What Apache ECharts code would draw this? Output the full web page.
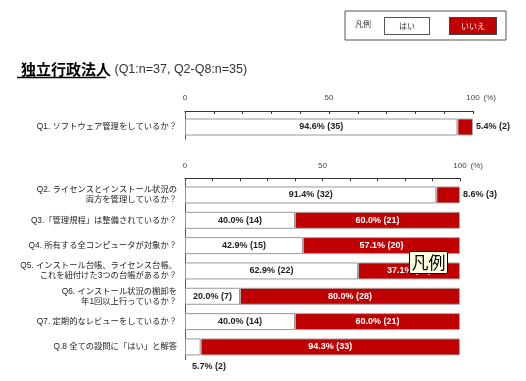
<!DOCTYPE html>
<html>
<head>
<meta charset="utf-8">
<script src="https://cdn.jsdelivr.net/npm/echarts@6/dist/echarts.min.js"></script>
<style>html,body{margin:0;padding:0;background:#fff;}#c{width:526px;height:381px;}</style>
</head>
<body>
<div id="c"></div>
<script>
// ---- data ----
const categories1 = ['Q1. ソフトウェア管理をしているか？'];
const yesPct1 = [94.6];
const noPct1 = [5.4];
const yesCount1 = [35];
const noCount1 = [2];

const categories2 = [
  'Q2. ライセンスとインストール状況の\n両方を管理しているか？',
  'Q3.「管理規程」は整備されているか？',
  'Q4. 所有する全コンピュータが対象か？',
  'Q5. インストール台帳、ライセンス台帳、\nこれを紐付けた3つの台帳があるか？',
  'Q6. インストール状況の棚卸を\n年1回以上行っているか？',
  'Q7. 定期的なレビューをしているか？',
  'Q.8 全ての設問に「はい」と解答'
];
const yesPct2 = [91.4, 40.0, 42.9, 62.9, 20.0, 40.0, 5.7];
const noPct2 = [8.6, 60.0, 57.1, 37.1, 80.0, 60.0, 94.3];
const yesCount2 = [32, 14, 15, 22, 7, 14, 2];
const noCount2 = [3, 21, 20, 13, 28, 21, 33];

const axisTicks = [0, 50, 100];
const seriesNames = ['はい', 'いいえ'];

// ---- styling ----
const RED = '#c00000';
const CJK = '"Liberation Sans", "Noto Sans CJK JP", sans-serif';
const JP = '"Noto Sans CJK JP", sans-serif';
const NUM = '"Liberation Sans", Arial, sans-serif';
const fmt = (v, n) => v.toFixed(1) + '% (' + n + ')';

function xAxisCfg(gridIndex) {
  return {
    type: 'value', gridIndex, position: 'top', min: 0, max: 100, interval: 10, offset: 4,
    name: '(%)', nameLocation: 'end', nameGap: 7,
    nameTextStyle: { fontSize: 8, color: '#444', fontFamily: NUM, verticalAlign: 'bottom', padding: [0, 0, 9, 0] },
    axisLine: { show: true, lineStyle: { color: '#333', width: 1 } },
    axisTick: { show: true, inside: true, length: 3, lineStyle: { color: '#333' } },
    axisLabel: { fontSize: 8, color: '#444', fontFamily: NUM, margin: 9,
      formatter: v => axisTicks.includes(v) ? String(v) : '' },
    splitLine: { show: false }
  };
}
function yAxisCfg(gridIndex, cats) {
  return {
    type: 'category', gridIndex, data: cats, inverse: true,
    axisLine: { show: true, lineStyle: { color: '#555' } },
    axisTick: { show: false },
    axisLabel: { fontSize: 8.3, color: '#222', fontFamily: CJK, margin: 8, lineHeight: 10, align: 'right' }
  };
}
function toData(pcts, overrides) {
  return pcts.map((v, i) => {
    const d = { value: v };
    if (overrides[i]) d.label = overrides[i];
    return d;
  });
}
const barCommon = { type: 'bar', barWidth: 17, animation: false };
const whiteStyle = { color: '#fff', borderColor: '#999', borderWidth: 1 };
const redStyle = { color: RED, borderColor: '#a9a9a9', borderWidth: 1 };
const whiteLabel = (counts) => ({ show: true, position: 'inside', color: '#222', fontSize: 9, fontWeight: 'bold', fontFamily: NUM,
  formatter: p => fmt(p.value, counts[p.dataIndex]) });
const redLabel = (counts) => ({ show: true, position: 'inside', color: '#fff', fontSize: 9, fontWeight: 'bold', fontFamily: NUM,
  formatter: p => fmt(p.value, counts[p.dataIndex]) });
const outsideRight = { position: 'right', distance: 3, color: '#222' };
const belowLeft = { position: [7, 28], align: 'left', verticalAlign: 'middle', color: '#222' };

const option = {
  animation: false,
  backgroundColor: '#fff',
  title: [
    { left: 16, top: 57, text: '{a|独立行政法人}{b| (Q1:n=37, Q2-Q8:n=35)}',
      textStyle: { rich: {
        a: { fontSize: 15, fontWeight: 'bold', color: '#000', fontFamily: JP, verticalAlign: 'bottom' },
        b: { fontSize: 12.5, fontWeight: 'normal', color: '#333', fontFamily: NUM, verticalAlign: 'bottom', padding: [0, 0, 1, 0] }
      } } },
    { left: 350, top: 15, text: '凡例', textStyle: { fontSize: 8, fontWeight: 'normal', color: '#333', fontFamily: JP } }
  ],
  legend: {
    left: 345, top: 11, orient: 'horizontal', selectedMode: false,
    padding: [6, 9, 5, 34], itemGap: 14, itemWidth: 0, itemHeight: 0,
    backgroundColor: '#fff', borderColor: '#555', borderWidth: 1,
    formatter: n => n === seriesNames[0] ? '{y|' + n + '}' : '{n|' + n + '}',
    textStyle: { rich: {
      y: { fontSize: 8, color: '#333', fontFamily: JP, backgroundColor: '#fff', borderColor: '#555', borderWidth: 1, width: 44, height: 16, lineHeight: 16, align: 'center' },
      n: { fontSize: 8, color: '#fff', fontFamily: JP, backgroundColor: RED, borderColor: '#444', borderWidth: 1, width: 46, height: 16, lineHeight: 16, align: 'center' }
    } },
    data: seriesNames.map(n => ({ name: n, icon: 'rect' }))
  },
  grid: [
    { left: 185, right: 53, top: 115, height: 24, containLabel: false },
    { left: 185, right: 66, top: 182.3, height: 177.3, containLabel: false }
  ],
  xAxis: [xAxisCfg(0), xAxisCfg(1)],
  yAxis: [yAxisCfg(0, categories1), yAxisCfg(1, categories2)],
  series: [
    Object.assign({}, barCommon, { name: seriesNames[0], stack: 'g1', xAxisIndex: 0, yAxisIndex: 0, itemStyle: whiteStyle,
      label: whiteLabel(yesCount1), data: toData(yesPct1, {}) }),
    Object.assign({}, barCommon, { name: seriesNames[1], stack: 'g1', xAxisIndex: 0, yAxisIndex: 0, itemStyle: redStyle,
      label: redLabel(noCount1), data: toData(noPct1, { 0: outsideRight }) }),
    Object.assign({}, barCommon, { name: seriesNames[0], stack: 'g2', xAxisIndex: 1, yAxisIndex: 1, itemStyle: whiteStyle,
      label: whiteLabel(yesCount2), data: toData(yesPct2, { 6: belowLeft }) }),
    Object.assign({}, barCommon, { name: seriesNames[1], stack: 'g2', xAxisIndex: 1, yAxisIndex: 1, itemStyle: redStyle,
      label: redLabel(noCount2), data: toData(noPct2, { 0: outsideRight }) })
  ],
  graphic: [
    { type: 'line', z: 100, shape: { x1: 17, y1: 77.5, x2: 106, y2: 77.5 }, style: { stroke: '#000', lineWidth: 1.5 } },
    { type: 'rect', z: 100, shape: { x: 409.5, y: 251.5, width: 38, height: 22 }, style: { fill: '#ffffe1', stroke: '#000', lineWidth: 1 } },
    { type: 'text', z: 101, x: 428.5, y: 262.5, style: { text: '凡例', fontSize: 17, fill: '#000', align: 'center', verticalAlign: 'middle', fontFamily: JP } }
  ]
};

const chart = echarts.init(document.getElementById('c'), null, { renderer: 'canvas' });
chart.setOption(option);
</script>
</body>
</html>
